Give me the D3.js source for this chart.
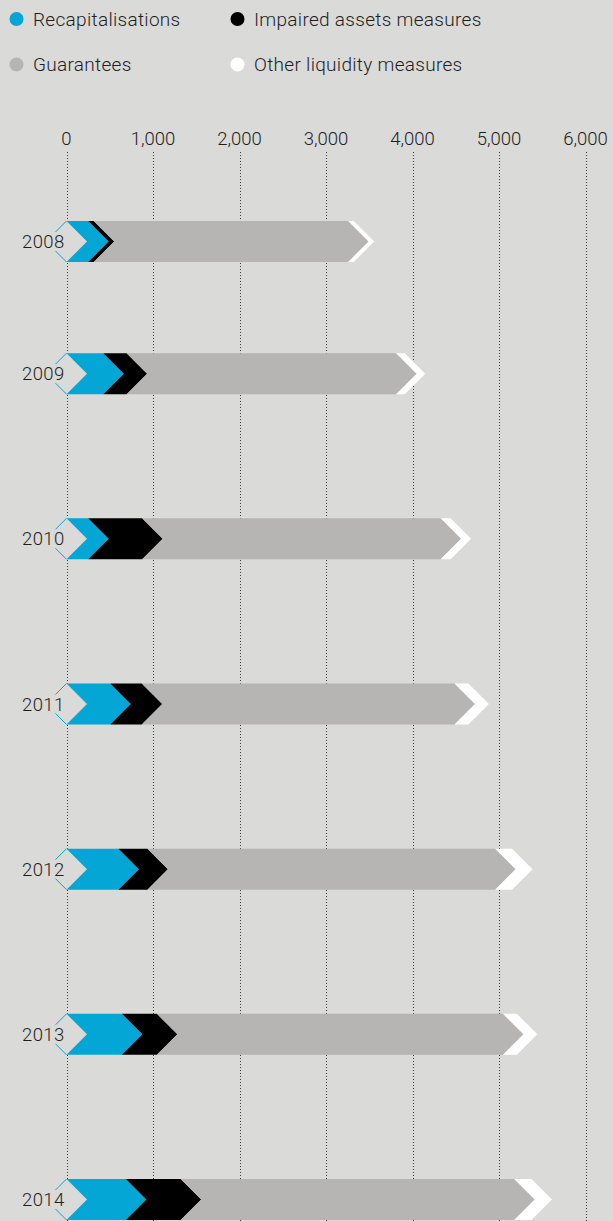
<!DOCTYPE html>
<html>
<head>
<meta charset="utf-8">
<script src="https://cdn.jsdelivr.net/npm/d3@7"></script>
<style>
  html, body { margin: 0; padding: 0; background: #dadad9; }
  svg { display: block; }
  text { font-family: Roboto, "Liberation Sans", Arial, sans-serif; font-weight: 300; fill: #1e1e1e; }
</style>
</head>
<body>
<div id="chart"></div>
<script>
// ---- data ----
const years = ["2008", "2009", "2010", "2011", "2012", "2013", "2014"];
const seriesNames = ["Recapitalisations", "Impaired assets measures", "Guarantees", "Other liquidity measures"];
const recapitalisations = [250, 425, 250, 505, 600, 640, 685];
const impairedAssets   = [65, 270, 625, 365, 335, 405, 635];
const guarantees       = [2940, 3115, 3450, 3615, 4020, 4000, 3855];
const otherLiquidity   = [65, 100, 115, 160, 195, 160, 200];
const tickValues = [0, 1000, 2000, 3000, 4000, 5000, 6000];
const tickLabels = ["0", "1,000", "2,000", "3,000", "4,000", "5,000", "6,000"];

const colors = ["#03a6d5", "#000000", "#b6b5b3", "#ffffff"];
const bg = "#dadad9";

// ---- layout ----
const W = 613, H = 1221;
const svg = d3.select("#chart").append("svg").attr("width", W).attr("height", H);
svg.append("rect").attr("width", W).attr("height", H).attr("fill", bg);

const x = d3.scaleLinear().domain([0, 6000]).range([66.5, 585.6]);
// first row sits a little closer to the axis than the others
const slot = (i) => (i === 0 ? 0 : i - 0.2);
const y = d3.scaleLinear().domain([0, slot(years.length - 1)]).range([241.5, 1199.5]);
const barH = 41, d = barH / 2;

// ---- legend ----
const legendPos = [[16.5, 19], [237.5, 19], [16.5, 64.5], [237.5, 64.5]];
const lg = svg.append("g");
seriesNames.forEach((name, k) => {
  const [cx, cy] = legendPos[k];
  lg.append("circle").attr("cx", cx).attr("cy", cy).attr("r", 7).attr("fill", colors[k]);
  lg.append("text").attr("x", cx + 16.5).attr("y", cy).attr("dy", "0.36em")
    .attr("font-size", 19).attr("letter-spacing", 0.3).text(name);
});

// ---- gridlines + axis labels ----
const axisG = svg.append("g");
axisG.selectAll("line.grid").data(tickValues).join("line")
  .attr("class", "grid")
  .attr("x1", v => Math.round(x(v)) + 0.5).attr("x2", v => Math.round(x(v)) + 0.5)
  .attr("y1", 152).attr("y2", H)
  .attr("stroke", "#3a3a3a").attr("stroke-width", 1).attr("stroke-dasharray", "1,2");
axisG.selectAll("text.tick").data(tickValues).join("text")
  .attr("class", "tick")
  .attr("x", v => x(v)).attr("y", 145)
  .attr("text-anchor", "middle").attr("font-size", 18.5)
  .text((v, i) => tickLabels[i]);

// ---- bars ----
const series = [recapitalisations, impairedAssets, guarantees, otherLiquidity];
const barsG = svg.append("g");
years.forEach((yr, i) => {
  const cy = y(slot(i));
  const top = cy - d, bot = cy + d;
  let acc = 0;
  const segs = series.map((s, k) => {
    const seg = { k, start: acc, end: acc + s[i] };
    acc += s[i];
    return seg;
  });
  const g = barsG.append("g");
  const x0 = x(0);
  // notch area hides the gridline
  g.append("path")
    .attr("d", `M${x0 - 12},${top}L${x0 + d},${top}L${x0 + d},${bot}L${x0 - 12},${bot}Z`)
    .attr("fill", bg);
  g.selectAll("path.seg").data(segs).join("path")
    .attr("class", "seg")
    .attr("d", s => {
      const a = x(s.start), b = x(s.end);
      return `M${a},${top}L${b},${top}L${b + d},${cy}L${b},${bot}L${a},${bot}L${a + d},${cy}Z`;
    })
    .attr("fill", s => colors[s.k]);
  // thin blue strokes at the tail notch
  g.append("path")
    .attr("d", `M${x0},${top}L${x0 - 11},${top + 11}M${x0 - 11},${bot - 11}L${x0},${bot}`)
    .attr("stroke", colors[0]).attr("stroke-width", 1).attr("fill", "none");
  // year label
  svg.append("text").attr("x", 22).attr("y", cy).attr("dy", "0.36em")
    .attr("font-size", 18.5).attr("letter-spacing", 0.4).text(yr);
});
</script>
</body>
</html>
